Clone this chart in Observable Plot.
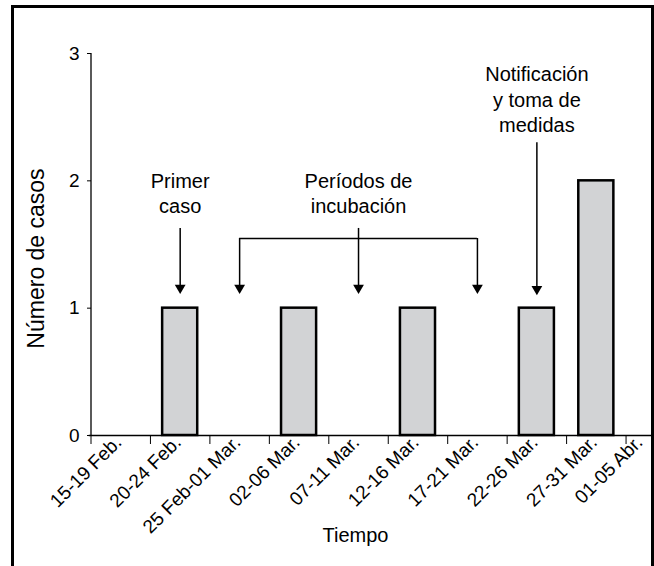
<!DOCTYPE html>
<html><head><meta charset="utf-8">
<script src="https://cdn.jsdelivr.net/npm/d3@7"></script>
<script src="https://cdn.jsdelivr.net/npm/@observablehq/plot@0.6"></script>
<style>
body{margin:0;background:#fff;overflow:hidden}
#wrap{position:relative;width:654px;height:566px;overflow:hidden}
#frame{position:absolute;left:11px;top:5px;width:643px;height:620px;border:3px solid #000;border-bottom:none;box-sizing:border-box;pointer-events:none}
</style></head><body>
<div id="wrap"><div id="chart"></div><div id="frame"></div></div>
<script>
// Data
const periods = ["15-19 Feb.", "20-24 Feb.", "25 Feb-01 Mar.", "02-06 Mar.", "07-11 Mar.", "12-16 Mar.", "17-21 Mar.", "22-26 Mar.", "27-31 Mar.", "01-05 Abr."];
const cases = [0, 1, 0, 1, 0, 1, 0, 1, 2, 0];
const yTicks = [0, 1, 2, 3];

// Annotations (category index, value level)
const noteIndex = [1, 4, 7];
const noteText = ["Primer\ncaso", "Períodos de\nincubación", "Notificación\ny toma de\nmedidas"];
const noteLevel = [1.745, 1.745, 2.38];
const arrowIndex = [1, 2, 4, 6, 7];
const arrowFrom = [1.626, 1.547, 1.626, 1.547, 2.30];
const arrowTo = [1.16, 1.16, 1.16, 1.16, 1.15];
const bracketFrom = 2, bracketTo = 6, bracketLevel = 1.547;

const rows = periods.map((p, i) => ({i, period: p, cases: cases[i]}));
const notes = noteIndex.map((i, k) => ({i, label: noteText[k], y: noteLevel[k]}));
const arrows = arrowIndex.map((i, k) => ({i, from: arrowFrom[k], to: arrowTo[k]}));
const bracket = [{from: bracketFrom, to: bracketTo, level: bracketLevel}];
const last = rows.length - 1;

const labelOpts = {x: d => d.i + 0.5, y: 0, text: "period", rotate: -45, textAnchor: "end", lineAnchor: "bottom", dy: 8, fontSize: 19};

const chart = Plot.plot({
  width: 654, height: 566,
  marginLeft: 91, marginTop: 53, marginBottom: 131, marginRight: 35,
  style: {fontFamily: "'Liberation Sans', Arial, sans-serif", fontSize: "19px", color: "#000", background: "transparent"},
  x: {domain: [0, periods.length], range: [90.5, 685]},
  y: {domain: [0, 3], range: [435, 53]},
  marks: [
    Plot.rectY(rows.filter(d => d.cases > 0), {x1: d => d.i + 0.205, x2: d => d.i + 0.795, y1: 0, y2: "cases", fill: "#d2d3d5", stroke: "#000", strokeWidth: 2.5}),
    Plot.ruleX([0], {y1: 0, y2: 3, stroke: "#000", strokeWidth: 1.3}),
    Plot.ruleY([0], {x1: -0.03, x2: periods.length, stroke: "#000", strokeWidth: 1.3}),
    Plot.axisY({ticks: yTicks, tickSize: 4, tickPadding: 8, fontSize: 19, label: null, tickFormat: d3.format("d")}),
    Plot.axisX({ticks: rows.map(d => d.i), tickSize: 9, tickFormat: () => "", label: null}),
    Plot.text(rows.filter(d => d.i < last), {...labelOpts, dx: 2}),
    Plot.text(rows.filter(d => d.i === last), {...labelOpts, dx: -12}),
    Plot.text(["Número de casos"], {frameAnchor: "left", rotate: -90, textAnchor: "middle", lineAnchor: "bottom", dx: -48, dy: 14, fontSize: 23}),
    Plot.text(["Tiempo"], {frameAnchor: "bottom", lineAnchor: "bottom", dy: 106, fontSize: 20}),
    Plot.text(notes, {x: d => d.i + 0.5, y: "y", text: "label", lineAnchor: "bottom", lineHeight: 1.28, fontSize: 20}),
    Plot.ruleY(bracket, {x1: d => d.from + 0.5, x2: d => d.to + 0.5, y: "level", stroke: "#000", strokeWidth: 1.5}),
    Plot.ruleX(arrows, {x: d => d.i + 0.5, y1: "from", y2: "to", stroke: "#000", strokeWidth: 1.5}),
    Plot.dot(arrows, {x: d => d.i + 0.5, y: "to", symbol: "triangle", r: 4, rotate: 180, fill: "#000", stroke: "none"})
  ]
});
document.getElementById("chart").appendChild(chart);
</script>
</body></html>
